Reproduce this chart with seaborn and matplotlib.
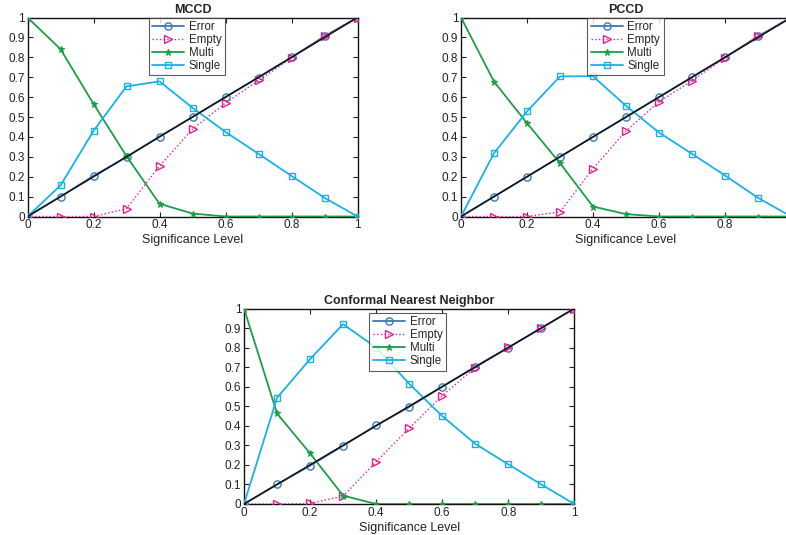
import numpy as np
import pandas as pd
import matplotlib
matplotlib.use("Agg")
import matplotlib.pyplot as plt
import seaborn as sns

sig_levels = [0.0, 0.1, 0.2, 0.3, 0.4, 0.5, 0.6, 0.7, 0.8, 0.9, 1.0]
series_names = ["Error", "Empty", "Multi", "Single"]
panel_titles = ["MCCD", "PCCD", "Conformal Nearest Neighbor"]
x_ticks = [0, 0.2, 0.4, 0.6, 0.8, 1]
x_tick_labels = ["0", "0.2", "0.4", "0.6", "0.8", "1"]
y_ticks = [0, 0.1, 0.2, 0.3, 0.4, 0.5, 0.6, 0.7, 0.8, 0.9, 1]
y_tick_labels = ["0", "0.1", "0.2", "0.3", "0.4", "0.5", "0.6", "0.7", "0.8", "0.9", "1"]

mccd_error = [0.0, 0.10, 0.204, 0.299, 0.402, 0.50, 0.60, 0.698, 0.80, 0.906, 1.0]
mccd_empty = [0.0, 0.0, 0.0, 0.039, 0.254, 0.439, 0.57, 0.684, 0.796, 0.907, 1.0]
mccd_multi = [1.0, 0.841, 0.566, 0.303, 0.064, 0.015, 0.0, 0.0, 0.0, 0.0, 0.0]
mccd_single = [0.0, 0.156, 0.43, 0.654, 0.679, 0.546, 0.425, 0.315, 0.204, 0.094, 0.0]

pccd_error = [0.0, 0.10, 0.20, 0.30, 0.40, 0.50, 0.60, 0.70, 0.80, 0.905, 1.0]
pccd_empty = [0.0, 0.0, 0.0, 0.023, 0.241, 0.43, 0.576, 0.683, 0.796, 0.907, 1.0]
pccd_multi = [1.0, 0.678, 0.469, 0.268, 0.05, 0.012, 0.0, 0.0, 0.0, 0.0, 0.0]
pccd_single = [0.0, 0.318, 0.528, 0.704, 0.705, 0.556, 0.422, 0.315, 0.206, 0.094, 0.0]

cnn_error = [0.0, 0.10, 0.196, 0.298, 0.402, 0.496, 0.60, 0.703, 0.80, 0.90, 1.0]
cnn_empty = [0.0, 0.0, 0.003, 0.04, 0.216, 0.387, 0.554, 0.697, 0.801, 0.901, 1.0]
cnn_multi = [1.0, 0.463, 0.259, 0.043, 0.0, 0.0, 0.0, 0.0, 0.0, 0.0, 0.0]
cnn_single = [0.0, 0.543, 0.741, 0.92, 0.80, 0.615, 0.45, 0.308, 0.203, 0.10, 0.0]

panels = [
    [mccd_error, mccd_empty, mccd_multi, mccd_single],
    [pccd_error, pccd_empty, pccd_multi, pccd_single],
    [cnn_error, cnn_empty, cnn_multi, cnn_single],
]

sns.set_style("ticks")
plt.rcParams["font.family"] = ["Liberation Sans", "DejaVu Sans"]

styles = {
    "Error": dict(color="#3d7ab5", marker="o", linestyle="-", ms=5.2, mfc="none", mew=1.0, lw=1.3),
    "Empty": dict(color="#e5218f", marker=">", linestyle=":", ms=5.5, mfc="none", mew=1.0, lw=1.0),
    "Multi": dict(color="#1b9e48", marker="*", linestyle="-", ms=5.0, mfc="#1b9e48", mew=0.8, lw=1.3),
    "Single": dict(color="#1ab0e8", marker="s", linestyle="-", ms=4.3, mfc="none", mew=1.0, lw=1.3),
}

W, H = 786, 535
fig = plt.figure(figsize=(W / 100, H / 100), dpi=100)

# axes rects in pixels: left, top, right, bottom
rects_px = [
    (27.5, 17.5, 357.5, 216.5),
    (461.0, 17.5, 791.0, 216.5),
    (244.0, 308.5, 574.3, 504.0),
]
legend_anchor = [(0.367, 1.0), (0.382, 1.0), (0.379, 0.977)]

for i, (vals, title) in enumerate(zip(panels, panel_titles)):
    l, t, r, b = rects_px[i]
    ax = fig.add_axes([l / W, 1 - b / H, (r - l) / W, (b - t) / H])
    df = pd.DataFrame({"sig": sig_levels * 4,
                       "value": sum(vals, []),
                       "series": sum([[n] * len(sig_levels) for n in series_names], [])})
    for name in series_names:
        st = styles[name]
        sub = df[df["series"] == name]
        sns.lineplot(data=sub, x="sig", y="value", ax=ax, color=st["color"],
                     linestyle=st["linestyle"], linewidth=st["lw"], marker=st["marker"],
                     markersize=st["ms"], markerfacecolor=st["mfc"],
                     markeredgecolor=st["color"], markeredgewidth=st["mew"],
                     label=name, zorder=3, clip_on=True)
    # ideal diagonal reference line (y = significance level)
    sns.lineplot(x=sig_levels, y=sig_levels, ax=ax, color="#111111", linewidth=1.1,
                 zorder=4, legend=False)
    ax.set_xlim(0, 1)
    ax.set_ylim(0, 1)
    ax.set_xticks(x_ticks)
    # the right panel runs past the figure edge, so its last label is not shown
    ax.set_xticklabels(x_tick_labels[:-1] + [""] if i == 1 else x_tick_labels)
    ax.set_yticks(y_ticks)
    ax.set_yticklabels(y_tick_labels)
    ax.tick_params(direction="in", top=True, right=True, length=3.5, width=0.8,
                   labelsize=8.5, pad=2, colors="#222222")
    for sp in ax.spines.values():
        sp.set_linewidth(1.0)
        sp.set_color("#111111")
    ax.set_xlabel("Significance Level", fontsize=9, labelpad=2, color="#222222")
    ax.set_ylabel("")
    ax.set_title(title, fontsize=9, fontweight="bold", pad=3)
    leg = ax.legend(loc="upper left", bbox_to_anchor=legend_anchor[i], borderaxespad=0,
                    fontsize=8.3, frameon=True, fancybox=False, handlelength=2.8,
                    handletextpad=0.4, borderpad=0.3, labelspacing=0.08)
    leg.get_frame().set_edgecolor("#333333")
    leg.get_frame().set_linewidth(0.8)
    leg.set_zorder(10)

fig.savefig("out.png", dpi=100)
